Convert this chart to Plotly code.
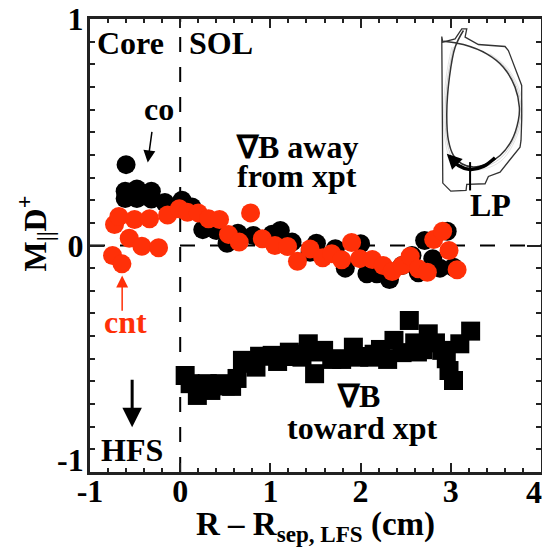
import plotly.graph_objects as go

co_x = [-0.60,-0.61,-0.61,-0.48,-0.48,-0.32,-0.32,-0.17,0.02,0.13,0.25,0.40,0.52,0.64,0.81,1.02,1.11,1.24,1.51,1.44,1.72,1.83,2.00,2.07,2.18,2.32,2.46,2.57,2.64,2.71,2.96,2.80,2.88,3.03]
co_y = [0.357,0.24,0.207,0.25,0.207,0.24,0.205,0.19,0.20,0.17,0.07,0.066,0.01,0.054,0.044,0.05,0.066,0.015,0.01,-0.03,-0.014,-0.10,0.008,-0.125,-0.125,-0.15,-0.088,-0.044,-0.12,0.022,0.063,-0.058,-0.10,-0.096]
cnt_x = [-0.75,-0.646,-0.728,-0.68,-0.506,-0.34,-0.565,-0.425,-0.24,-0.14,-0.01,0.08,0.20,0.314,0.436,0.535,0.654,0.78,0.91,1.05,1.19,1.30,1.44,1.58,1.68,1.79,1.90,1.99,2.13,2.25,2.35,2.46,2.55,2.64,2.74,2.81,2.91,2.98,3.07]
cnt_y = [-0.044,-0.081,0.093,0.128,0.115,0.118,0.032,-0.003,-0.01,0.135,0.162,0.147,0.144,0.118,0.115,0.049,0.015,0.144,0.03,0.0,-0.004,-0.07,-0.015,-0.054,-0.036,-0.063,0.013,-0.058,-0.062,-0.088,-0.115,-0.088,-0.047,-0.103,-0.118,0.026,0.063,-0.022,-0.107]
tow_x = [0.055,0.11,0.19,0.25,0.30,0.34,0.44,0.50,0.57,0.63,0.69,0.75,0.84,0.88,1.02,1.08,1.15,1.21,1.28,1.35,1.42,1.49,1.50,1.59,1.68,1.75,1.79,1.92,1.98,2.03,2.10,2.15,2.22,2.30,2.37,2.46,2.54,2.60,2.63,2.69,2.75,2.83,2.90,2.95,2.98,3.03,3.10,3.22]
tow_y = [-0.574,-0.61,-0.662,-0.63,-0.61,-0.64,-0.61,-0.62,-0.622,-0.587,-0.507,-0.52,-0.537,-0.489,-0.485,-0.512,-0.49,-0.471,-0.48,-0.493,-0.434,-0.566,-0.47,-0.463,-0.503,-0.50,-0.503,-0.449,-0.493,-0.49,-0.493,-0.48,-0.459,-0.503,-0.419,-0.473,-0.331,-0.43,-0.47,-0.46,-0.39,-0.43,-0.463,-0.50,-0.552,-0.596,-0.434,-0.378]
x_major = [-1, 0, 1, 2, 3, 4]
x_labels = ["-1", "0", "1", "2", "3", ""]
x_minor = [-0.8,-0.6,-0.4,-0.2,0.2,0.4,0.6,0.8,1.2,1.4,1.6,1.8,2.2,2.4,2.6,2.8,3.2,3.4,3.6,3.8]
y_major = [-1, 0, 1]
y_labels = ["", "0", "1"]
y_minor = [-0.9,-0.8,-0.7,-0.6,-0.5,-0.4,-0.3,-0.2,-0.1,0.1,0.2,0.3,0.4,0.5,0.6,0.7,0.8,0.9]

FONT = "Liberation Serif"
L, R, T, B = 89.5, 541, 18.5, 471.7
dx = lambda p: (p - L) / (R - L) * 5 - 1
dy = lambda p: 1 - (p - T) / (B - T) * 2
zx = lambda z: dx(420 + z / 3)
zy = lambda z: dy(20 + z / 3)

fig = go.Figure()
for xs, ys, sym, col, nm in [(co_x, co_y, "circle", "black", "co"),
                             (cnt_x, cnt_y, "circle", "#ff3008", "cnt"),
                             (tow_x, tow_y, "square", "black", "toward xpt")]:
    fig.add_trace(go.Scatter(x=xs, y=ys, mode="markers", name=nm,
                             marker=dict(symbol=sym, size=19, color=col, line=dict(width=0))))
fig.add_trace(go.Scatter(x=[None], y=[None], xaxis="x2", yaxis="y2", hoverinfo="skip"))

def curve(pts, col="#333", w=1.3, shape="linear"):
    fig.add_trace(go.Scatter(x=[zx(p[0]) for p in pts], y=[zy(p[1]) for p in pts], mode="lines",
                             line=dict(color=col, width=w, shape=shape), hoverinfo="skip"))

sep = [(130,30),(105,80),(88,170),(80,280),(85,360),(100,405),(125,430),(160,440),(200,430),(240,405),(275,360),(295,300),(298,260),(285,200),(250,140),(200,100),(130,72),(70,62)]
for off, col in [(10, "#dddddd"), (5, "#c8c8c8")]:
    curve([(x + off * (1 if x > 160 else -1), y + (off if y > 380 else 0)) for x, y in sep[1:16]], col, 0.8, "spline")
curve(sep, "#333", 1.5, "spline")
curve([(65,48),(68,65),(105,55),(125,25),(140,25),(135,50),(175,72),(255,78),(265,90),(305,195),(305,300),(303,360),(300,380),(240,455),(205,468),(195,490),(140,492),(138,510),(92,512),(68,488),(65,48)], "#333", 1.3)
curve([(225,412),(190,438),(150,447),(115,435),(92,412)], "black", 3.5, "spline")
curve([(150,425),(150,510)], "black", 2)

def txt(s, px, py, size=32, color="black"):
    fig.add_annotation(xref="paper", yref="paper", x=(px - L) / (R - L), y=(B - py) / (B - T),
                       text=f"<b>{s}</b>", showarrow=False,
                       font=dict(family=FONT, size=size, color=color), xanchor="center", yanchor="middle")

def arrow(x0, y0, x1, y1, color="black", w=1.5, head=1.0):
    fig.add_annotation(x=dx(x1), y=dy(y1), ax=dx(x0), ay=dy(y0), axref="x", ayref="y", text="",
                       showarrow=True, arrowhead=2, arrowsize=head, arrowwidth=w, arrowcolor=color)

txt("Core", 130, 43); txt("SOL", 221, 43); txt("co", 159, 109)
txt("∇B away", 297, 147); txt("from xpt", 297, 176)
txt("cnt", 125, 322, color="#ff3008"); txt("HFS", 132, 450)
txt("∇B", 358, 396); txt("toward xpt", 362, 428); txt("LP", 490, 205); txt("-1", 70, 460)
txt("4", 534, 492)
arrow(151.7, 130, 147.3, 162, w=1.5, head=1.6)
arrow(121.7, 312, 121.7, 275, color="#ff3008", w=1.5, head=1.6)
arrow(131.7, 378, 131.7, 427, w=3, head=1.3)
arrow(420 + 115 / 3, 20 + 435 / 3, 420 + 80 / 3, 20 + 400 / 3, w=3, head=1)

dash = dict(color="black", width=2, dash="15px,15px")
fig.add_shape(type="line", x0=0, x1=0, y0=-1, y1=1, line=dash, layer="below")
fig.add_shape(type="line", x0=-1, x1=4, y0=0, y1=0, line=dash, layer="below")

tick = dict(family=FONT, size=32, color="black", weight="bold")
axis = dict(showgrid=False, zeroline=False, showline=True, linecolor="#222", linewidth=3,
            ticks="inside", tickcolor="#222", tickwidth=2, tickfont=tick, tickmode="array")
minor = dict(tickmode="array", ticks="inside", tickcolor="#222", tickwidth=2, showgrid=False)
fig.update_xaxes(range=[-1, 4], tickvals=x_major, ticktext=x_labels, ticklen=9, ticklabelstandoff=-11,
                 minor=dict(tickvals=x_minor, ticklen=4, **minor),
                 title=dict(text="<b>R – R<sub>sep, LFS</sub> (cm)</b>", font=dict(family=FONT, size=33, color="black"), standoff=2),
                 **axis)
fig.update_yaxes(range=[-1, 1], tickvals=y_major, ticktext=y_labels, ticklen=14, ticklabelstandoff=-3,
                 minor=dict(tickvals=y_minor, ticklen=5, **minor),
                 title=dict(text="&nbsp;&nbsp;&nbsp;<b>M<sub>||</sub>D<sup>+</sup></b>", font=dict(family=FONT, size=32, color="black"), standoff=12),
                 **axis)
fig.update_layout(width=542, height=547, showlegend=False, paper_bgcolor="white", plot_bgcolor="white",
                  margin=dict(l=L, r=542 - R, t=T, b=547 - B, autoexpand=False),
                  xaxis2=dict(overlaying="x", side="top", anchor="y2", range=[-1, 4], tickvals=x_major, showticklabels=False,
                              ticklen=9, minor=dict(tickvals=x_minor, ticklen=4, **minor),
                              **{k: v for k, v in axis.items() if k != "tickfont"}),
                  yaxis2=dict(overlaying="y", side="right", anchor="x2", range=[-1, 1], tickvals=y_major, showticklabels=False,
                              ticklen=14, minor=dict(tickvals=y_minor, ticklen=5, **minor),
                              **{k: v for k, v in axis.items() if k != "tickfont"}))
fig.write_html("out.html", config={"displayModeBar": False},
               post_script="document.body.style.margin='0';document.body.style.overflow='hidden';")
